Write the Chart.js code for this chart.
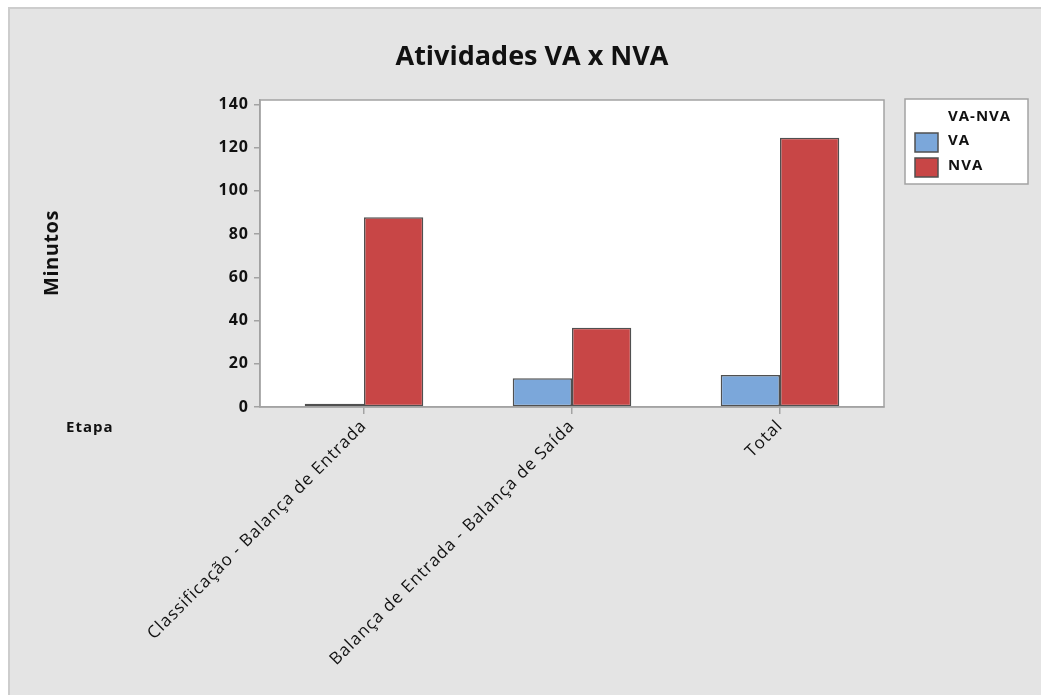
<!DOCTYPE html>
<html>
<head>
<meta charset="utf-8">
<title>Atividades VA x NVA</title>
<script src="https://cdn.jsdelivr.net/npm/chart.js@4/dist/chart.umd.min.js"></script>
<style>
  html, body { margin: 0; padding: 0; background: #ffffff; }
  #wrap { width: 1041px; height: 695px; }
</style>
</head>
<body>
<div id="wrap"><canvas id="c" width="1041" height="695"></canvas></div>
<script>
// Etapas do processo (eixo X)
const categories = [
  'Classificação - Balança de Entrada',
  'Balança de Entrada - Balança de Saída',
  'Total'
];
// Minutos por tipo de atividade
const seriesNames = ['VA', 'NVA'];
const vaMinutes = [1.5, 13.3, 14.8];
const nvaMinutes = [87.8, 36.7, 124.5];
const yTicks = [0, 20, 40, 60, 80, 100, 120, 140];

const chartTitle = 'Atividades VA x NVA';
const yTitle = 'Minutos';
const xTitle = 'Etapa';
const legendTitle = 'VA-NVA';

const FONT = '"Open Sans", "Noto Sans", sans-serif';
const BAR_EDGE = '#505050';
const FRAME = '#a3a3a3';
const colors = ['#7BA7DA', '#C84646'];

// Panel background, white plotting area and frame
const backdrop = {
  id: 'backdrop',
  beforeDraw(chart) {
    const { ctx, chartArea: a, width, height } = chart;
    ctx.save();
    ctx.fillStyle = '#ffffff';
    ctx.fillRect(0, 0, width, height);
    ctx.fillStyle = '#e4e4e4';
    ctx.fillRect(9, 8, width - 9, height - 8);
    ctx.strokeStyle = '#cdcdcd';
    ctx.lineWidth = 2;
    ctx.beginPath();
    ctx.moveTo(9, height); ctx.lineTo(9, 8); ctx.lineTo(width, 8);
    ctx.stroke();
    ctx.fillStyle = '#ffffff';
    ctx.fillRect(a.left, a.top, a.right - a.left, a.bottom - a.top);
    ctx.restore();
    // slightly open letter spacing for the axis labels
    ctx.letterSpacing = '1px';
  },
  afterDraw(chart) {
    const { ctx, chartArea: a } = chart;
    ctx.save();
    ctx.strokeStyle = FRAME;
    ctx.lineWidth = 1.5;
    ctx.strokeRect(a.left, a.top, a.right - a.left, a.bottom - a.top);
    ctx.restore();
  }
};

// Titles and the legend box
const annotations = {
  id: 'annotations',
  afterDraw(chart) {
    const { ctx } = chart;
    ctx.save();
    ctx.fillStyle = '#111111';
    ctx.textBaseline = 'middle';

    ctx.letterSpacing = '0px';
    ctx.font = 'bold 27px ' + FONT;
    ctx.textAlign = 'center';
    ctx.fillText(chartTitle, 532, 57);

    ctx.save();
    ctx.translate(52, 253);
    ctx.rotate(-Math.PI / 2);
    ctx.letterSpacing = '0.5px';
    ctx.font = 'bold 20px ' + FONT;
    ctx.fillText(yTitle, 0, 0);
    ctx.restore();

    ctx.letterSpacing = '1px';
    ctx.font = 'bold 15px ' + FONT;
    ctx.textAlign = 'left';
    ctx.fillText(xTitle, 66, 428);

    // legend
    const lx = 905, ly = 99, lw = 123, lh = 85;
    ctx.fillStyle = '#ffffff';
    ctx.fillRect(lx, ly, lw, lh);
    ctx.strokeStyle = FRAME;
    ctx.lineWidth = 1.5;
    ctx.strokeRect(lx, ly, lw, lh);
    ctx.fillStyle = '#111111';
    ctx.font = 'bold 15px ' + FONT;
    ctx.fillText(legendTitle, 948, 117);
    chart.data.datasets.forEach((ds, i) => {
      const sy = 133 + i * 25;
      ctx.fillStyle = ds.backgroundColor;
      ctx.fillRect(915, sy, 23, 19);
      ctx.strokeStyle = BAR_EDGE;
      ctx.lineWidth = 1.5;
      ctx.strokeRect(915, sy, 23, 19);
      ctx.fillStyle = '#111111';
      ctx.fillText(ds.label, 948, sy + 8);
    });
    ctx.restore();
  }
};

const chart = new Chart(document.getElementById('c'), {
  type: 'bar',
  data: {
    labels: categories,
    datasets: [
      { label: seriesNames[0], data: vaMinutes, backgroundColor: colors[0],
        borderColor: BAR_EDGE, borderWidth: 1.5, borderSkipped: false },
      { label: seriesNames[1], data: nvaMinutes, backgroundColor: colors[1],
        borderColor: BAR_EDGE, borderWidth: 1.5, borderSkipped: false }
    ]
  },
  options: {
    responsive: false,
    animation: false,
    devicePixelRatio: 1,
    layout: { padding: { left: 0, top: 100, right: 157, bottom: 0 } },
    datasets: { bar: { categoryPercentage: 0.57, barPercentage: 1.0 } },
    plugins: {
      legend: { display: false },
      title: { display: false },
      tooltip: { enabled: false }
    },
    scales: {
      x: {
        offset: true,
        afterFit(s) { s.height = 288; },
        grid: { offset: false, drawOnChartArea: false, drawTicks: true,
                tickLength: 7, color: FRAME, lineWidth: 1.5 },
        border: { color: FRAME, width: 1.5 },
        ticks: {
          minRotation: 45, maxRotation: 45, autoSkip: false, padding: 2,
          color: '#111111', font: { family: FONT, size: 17, weight: 'normal' }
        }
      },
      y: {
        min: 0, max: 142,
        afterFit(s) { s.width = 260; },
        afterBuildTicks(s) { s.ticks = yTicks.map(v => ({ value: v })); },
        grid: { drawOnChartArea: false, drawTicks: true, tickLength: 6,
                color: FRAME, lineWidth: 1.5 },
        border: { color: FRAME, width: 1.5 },
        ticks: {
          padding: 5, color: '#111111',
          font: { family: FONT, size: 16, weight: 'bold' }
        }
      }
    }
  },
  plugins: [backdrop, annotations]
});
</script>
</body>
</html>
